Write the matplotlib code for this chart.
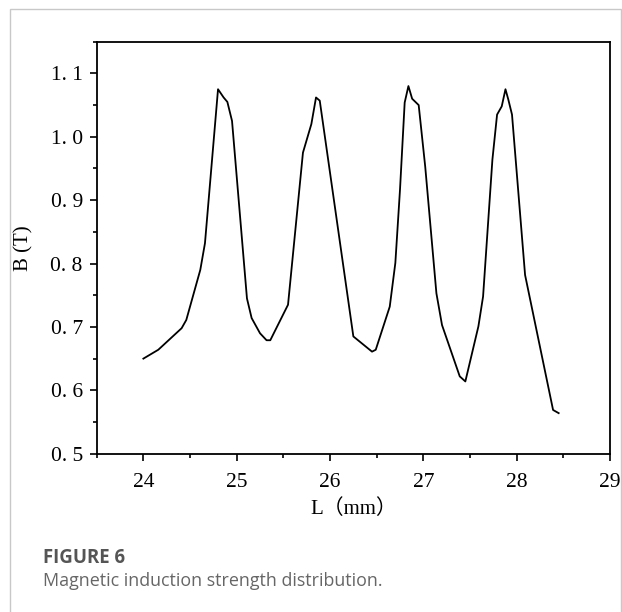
import matplotlib
matplotlib.use("Agg")
import matplotlib.pyplot as plt
from matplotlib.patches import Rectangle
from matplotlib.ticker import MultipleLocator, FuncFormatter

# position along the magnet (mm) and measured flux density (T)
L_mm = [24.00, 24.16, 24.41, 24.46, 24.61, 24.66, 24.80, 24.86, 24.90, 24.95,
        25.11, 25.16, 25.25, 25.32, 25.36, 25.55, 25.71, 25.80, 25.85, 25.89,
        26.25, 26.45, 26.49, 26.64, 26.70, 26.75, 26.80, 26.84, 26.88, 26.95,
        27.02, 27.14, 27.20, 27.39, 27.45, 27.59, 27.64, 27.74, 27.79, 27.84,
        27.88, 27.91, 27.95, 28.09, 28.39, 28.45]
B_T = [0.650, 0.664, 0.698, 0.711, 0.790, 0.832, 1.075, 1.062, 1.055, 1.025,
       0.745, 0.714, 0.690, 0.679, 0.679, 0.735, 0.975, 1.020, 1.062, 1.057,
       0.685, 0.661, 0.664, 0.732, 0.801, 0.917, 1.054, 1.080, 1.060, 1.050,
       0.953, 0.753, 0.703, 0.622, 0.614, 0.701, 0.748, 0.964, 1.035, 1.048,
       1.075, 1.059, 1.035, 0.782, 0.569, 0.564]

W, H = 622, 612
fig = plt.figure(figsize=(W / 100, H / 100), dpi=100)

# grey frame round the figure panel
fig.add_artist(Rectangle((10 / W, -0.05), 611 / W, 1.05 - 9 / H,
                         transform=fig.transFigure, fill=False,
                         edgecolor="#c8c8c8", linewidth=1.0))

ax = fig.add_axes([96.7 / W, 1 - 453.7 / H, (610 - 96.7) / W, (453.7 - 41.7) / H])
ax.plot(L_mm, B_T, color="black", linewidth=1.3)

ax.set_xlim(23.5, 29)
ax.set_ylim(0.5, 1.15)
ax.xaxis.set_major_locator(MultipleLocator(1))
ax.xaxis.set_minor_locator(MultipleLocator(0.5))
ax.yaxis.set_major_locator(MultipleLocator(0.1))
ax.yaxis.set_minor_locator(MultipleLocator(0.05))
# wide decimal point, as the plotting software printed it
ax.yaxis.set_major_formatter(FuncFormatter(lambda v, p: f"{v:.1f}".replace(".", ". ")))

serif = ["Liberation Serif", "Noto Sans CJK SC"]
ax.tick_params(which="major", direction="out", length=5, width=1.2,
               labelsize=15.5, top=False, right=False)
ax.tick_params(axis="x", which="major", pad=9)
ax.tick_params(axis="y", which="major", pad=5)
ax.tick_params(which="minor", direction="out", length=3, width=1.2,
               top=False, right=False)
for lbl in ax.get_xticklabels() + ax.get_yticklabels():
    lbl.set_family(serif)
for sp in ax.spines.values():
    sp.set_linewidth(1.3)

ax.set_xlabel("L（mm）", family=serif, fontsize=15, labelpad=5)
ax.set_ylabel("B (T)", family=serif, fontsize=15, labelpad=12)

fig.text(43 / W, 1 - 562.7 / H, "FIGURE 6", family="Open Sans", fontweight="bold",
         fontsize=13.4, color="#555555", va="baseline")
fig.text(43 / W, 1 - 586 / H, "Magnetic induction strength distribution.",
         family="Open Sans", fontsize=12.9, color="#666666", va="baseline")

fig.savefig("out.png", dpi=100)
